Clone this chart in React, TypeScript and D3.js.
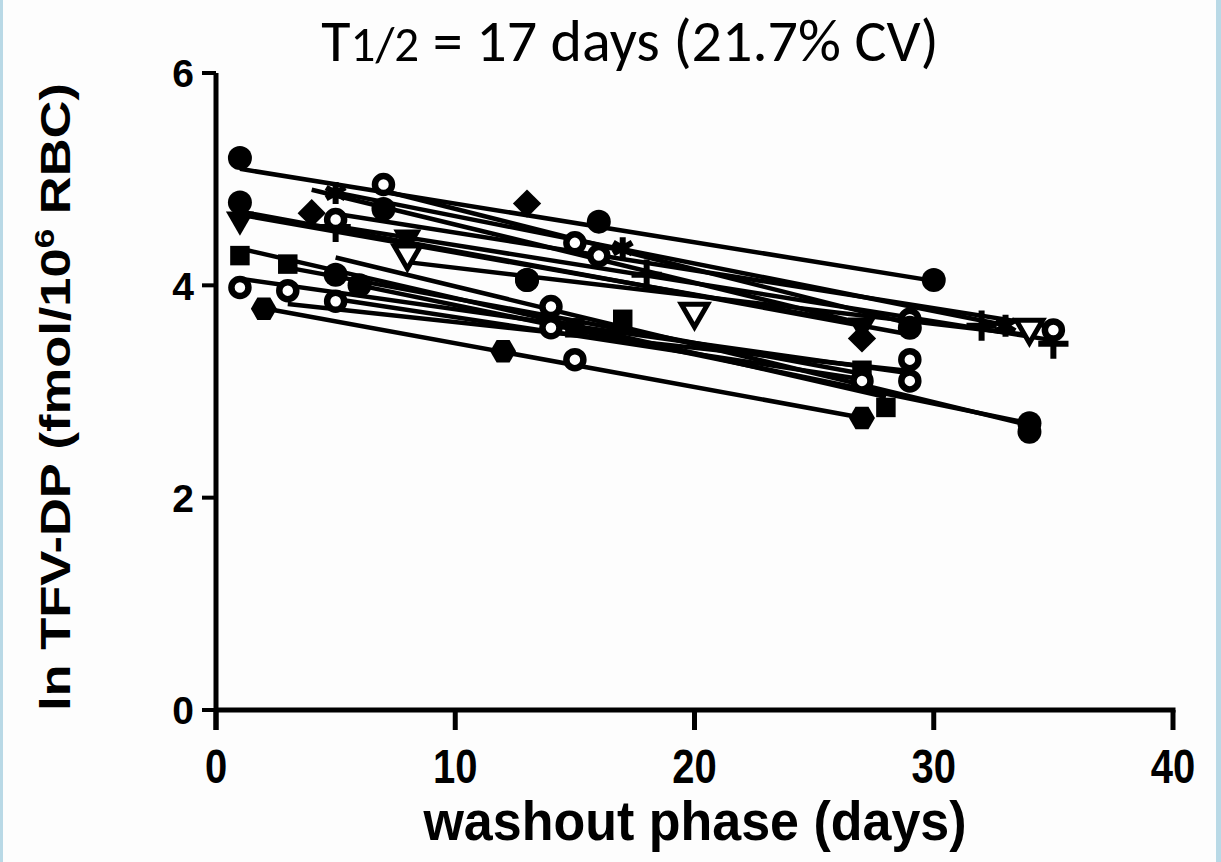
import React from "react";
import * as d3 from "d3";

const titleMain = "T";
const titleSub = "1/2";
const titleRest = " = 17 days (21.7% CV)";
const xTicks = [0, 10, 20, 30, 40];
const yTicks = [0, 2, 4, 6];
const xLabel = "washout phase (days)";

// subject data: days, ln values, marker
const s1Days = [1, 7, 16, 30];
const s1Vals = [5.2, 4.72, 4.6, 4.05];
const s2Days = [7, 16, 29];
const s2Vals = [4.95, 4.28, 3.68];
const s3Days = [4, 13, 27];
const s3Vals = [4.68, 4.77, 3.5];
const s4Days = [5, 17, 33];
const s4Vals = [4.87, 4.35, 3.62];
const s5Days = [1, 8, 27];
const s5Vals = [4.62, 4.45, 3.62];
const s6Days = [8, 20, 34];
const s6Vals = [4.3, 3.75, 3.6];
const s7Days = [5, 18, 32, 35];
const s7Vals = [4.55, 4.1, 3.62, 3.45];
const s8Days = [1, 13, 29];
const s8Vals = [4.78, 4.05, 3.6];
const s9Days = [1, 17, 28];
const s9Vals = [4.28, 3.68, 2.85];
const s10Days = [3, 15, 27];
const s10Vals = [4.2, 3.6, 3.2];
const s11Days = [1, 14, 29];
const s11Vals = [3.98, 3.8, 3.1];
const s12Days = [3, 15, 29];
const s12Vals = [3.95, 3.3, 3.3];
const s13Days = [2, 12, 27];
const s13Vals = [3.78, 3.38, 2.75];
const s14Days = [6, 34];
const s14Vals = [4.0, 2.7];
const s15Days = [5, 14, 27];
const s15Vals = [3.85, 3.6, 3.1];
const s16Days = [5, 15, 35];
const s16Vals = [4.62, 4.4, 3.58];
const s17Days = [5, 13, 34];
const s17Vals = [4.1, 4.05, 2.62];

type Marker = "fcircle" | "ocircle" | "fsquare" | "fdiamond" | "ftridown" | "otridown" | "plus" | "asterisk" | "fhex";

const subjects: { days: number[]; vals: number[]; marker: Marker }[] = [
  { days: s1Days, vals: s1Vals, marker: "fcircle" },
  { days: s2Days, vals: s2Vals, marker: "ocircle" },
  { days: s3Days, vals: s3Vals, marker: "fdiamond" },
  { days: s4Days, vals: s4Vals, marker: "asterisk" },
  { days: s5Days, vals: s5Vals, marker: "ftridown" },
  { days: s6Days, vals: s6Vals, marker: "otridown" },
  { days: s7Days, vals: s7Vals, marker: "plus" },
  { days: s8Days, vals: s8Vals, marker: "fcircle" },
  { days: s9Days, vals: s9Vals, marker: "fsquare" },
  { days: s10Days, vals: s10Vals, marker: "fsquare" },
  { days: s11Days, vals: s11Vals, marker: "ocircle" },
  { days: s12Days, vals: s12Vals, marker: "ocircle" },
  { days: s13Days, vals: s13Vals, marker: "fhex" },
  { days: s14Days, vals: s14Vals, marker: "fcircle" },
  { days: s15Days, vals: s15Vals, marker: "ocircle" },
  { days: s16Days, vals: s16Vals, marker: "ocircle" },
  { days: s17Days, vals: s17Vals, marker: "fcircle" },
];

function fit(xs: number[], ys: number[]) {
  const mx = d3.mean(xs)!;
  const my = d3.mean(ys)!;
  let num = 0, den = 0;
  xs.forEach((x, i) => {
    num += (x - mx) * (ys[i] - my);
    den += (x - mx) * (x - mx);
  });
  const b = den === 0 ? 0 : num / den;
  return (x: number) => my + b * (x - mx);
}

function MarkerShape({ type, cx, cy }: { type: Marker; cx: number; cy: number }) {
  const t = `translate(${cx},${cy})`;
  switch (type) {
    case "fcircle":
      return <circle cx={cx} cy={cy} r={12} fill="#000" />;
    case "ocircle":
      return <circle cx={cx} cy={cy} r={8.5} fill="#fff" stroke="#000" strokeWidth={6.5} />;
    case "fsquare":
      return <path transform={t} d={d3.symbol(d3.symbolSquare, 380)()!} fill="#000" />;
    case "fdiamond":
      return <path transform={`${t} rotate(45)`} d={d3.symbol(d3.symbolSquare, 400)()!} fill="#000" />;
    case "ftridown":
      return <path transform={`${t} rotate(180)`} d={d3.symbol(d3.symbolTriangle, 340)()!} fill="#000" />;
    case "otridown":
      return <path transform={`${t} rotate(180)`} d={d3.symbol(d3.symbolTriangle, 300)()!} fill="#fff" stroke="#000" strokeWidth={5} />;
    case "plus":
      return <path transform={t} d={d3.symbol(d3.symbolPlus, 300)()!} fill="none" stroke="#000" strokeWidth={6} />;
    case "asterisk":
      return <path transform={t} d={d3.symbol(d3.symbolAsterisk, 340)()!} fill="none" stroke="#000" strokeWidth={6} />;
    case "fhex": {
      const pts = d3.range(6).map((i) => {
        const a = (Math.PI / 3) * i;
        return [cx + 13 * Math.cos(a), cy + 13 * Math.sin(a)];
      });
      return <polygon points={pts.map((p) => p.join(",")).join(" ")} fill="#000" />;
    }
  }
  return null;
}

export default function App() {
  const W = 1221, H = 862;
  const x = d3.scaleLinear().domain([0, 40]).range([216, 1173]);
  const y = d3.scaleLinear().domain([0, 6]).range([710, 73]);
  const axisFont = "'Liberation Sans', Arial, sans-serif";

  return (
    <svg width={W} height={H} style={{ position: "absolute", left: 0, top: 0, background: "#fdfdfd" }}>
      <rect x={0} y={0} width={W} height={H} fill="#fdfdfd" />
      <rect x={0} y={0} width={3} height={H} fill="#b9d9e6" />
      <rect x={1216} y={0} width={5} height={H} fill="#b9d9e6" />

      {/* title */}
      <text
        x={630}
        y={61}
        textAnchor="middle"
        fontFamily="Carlito, 'Open Sans', 'Liberation Sans', sans-serif"
        fontSize={60}
        fill="#000"
      >
        <tspan>{titleMain}</tspan>
        <tspan fontSize={49}>{titleSub}</tspan>
        <tspan>{titleRest}</tspan>
      </text>

      {/* regression lines */}
      {subjects.map((s, i) => {
        const f = fit(s.days, s.vals);
        const x0 = d3.min(s.days)!;
        const x1 = d3.max(s.days)!;
        return <line key={"l" + i} x1={x(x0)} y1={y(f(x0))} x2={x(x1)} y2={y(f(x1))} stroke="#000" strokeWidth={4.5} />;
      })}

      {/* markers */}
      {subjects.map((s, i) =>
        s.days.map((d, j) => <MarkerShape key={`m${i}-${j}`} type={s.marker} cx={x(d)} cy={y(s.vals[j])} />)
      )}

      {/* axes */}
      <line x1={x(0)} y1={y(6)} x2={x(0)} y2={y(0) + 20} stroke="#000" strokeWidth={5} />
      <line x1={x(0) - 2} y1={y(0)} x2={x(40) + 2.5} y2={y(0)} stroke="#000" strokeWidth={5} />
      {yTicks.map((t) => (
        <g key={"yt" + t}>
          <line x1={x(0) - 14} x2={x(0)} y1={y(t)} y2={y(t)} stroke="#000" strokeWidth={4} />
          <text x={x(0) - 22} y={y(t)} dy="0.37em" textAnchor="end" fontFamily={axisFont} fontWeight="bold" fontSize={39} fill="#000">
            {t}
          </text>
        </g>
      ))}
      {xTicks.map((t) => (
        <g key={"xt" + t}>
          <line x1={x(t)} x2={x(t)} y1={y(0)} y2={y(0) + 20} stroke="#000" strokeWidth={5} />
          <text
            transform={`translate(${x(t)},783) scale(1,1.22)`}
            textAnchor="middle"
            fontFamily={axisFont}
            fontWeight="bold"
            fontSize={40}
            fill="#000"
          >
            {t}
          </text>
        </g>
      ))}
      <text
        transform="translate(695,840) scale(1,1.08)"
        textAnchor="middle"
        fontFamily={axisFont}
        fontWeight="bold"
        fontSize={52}
        fill="#000"
      >
        {xLabel}
      </text>
      <text
        transform="translate(70,397) rotate(-90) scale(1.25,1)"
        textAnchor="middle"
        fontFamily={axisFont}
        fontWeight="bold"
        fontSize={42}
        fill="#000"
      >
        <tspan>ln TFV-DP (fmol/10</tspan>
        <tspan dy={-16} fontSize={28}>6</tspan>
        <tspan dy={16}> RBC)</tspan>
      </text>
    </svg>
  );
}
